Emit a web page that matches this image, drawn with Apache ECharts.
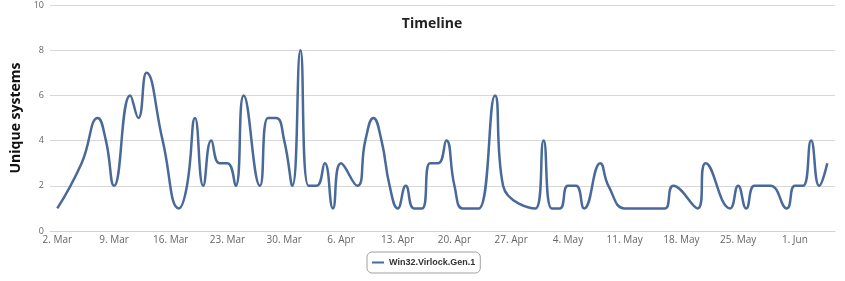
<!DOCTYPE html>
<html>
<head>
<meta charset="utf-8">
<script src="https://cdn.jsdelivr.net/npm/echarts@6/dist/echarts.min.js"></script>
<style>
  html, body { margin: 0; padding: 0; background: #fff; }
  #chart { width: 845px; height: 281px; }
</style>
</head>
<body>
<div id="chart"></div>
<script>
// daily detections (days with no point are simply skipped)
const dates = [
  '2015-03-02', '2015-03-05', '2015-03-07', '2015-03-08', '2015-03-09', '2015-03-11',
  '2015-03-12', '2015-03-13', '2015-03-15', '2015-03-17', '2015-03-18', '2015-03-19',
  '2015-03-20', '2015-03-21', '2015-03-22', '2015-03-23', '2015-03-24', '2015-03-25',
  '2015-03-27', '2015-03-28', '2015-03-29', '2015-03-30', '2015-03-31', '2015-04-01',
  '2015-04-02', '2015-04-03', '2015-04-04', '2015-04-05', '2015-04-06', '2015-04-08',
  '2015-04-09', '2015-04-10', '2015-04-11', '2015-04-12', '2015-04-13', '2015-04-14',
  '2015-04-15', '2015-04-16', '2015-04-17', '2015-04-18', '2015-04-19', '2015-04-20',
  '2015-04-21', '2015-04-22', '2015-04-23', '2015-04-25', '2015-04-26', '2015-04-30',
  '2015-05-01', '2015-05-02', '2015-05-03', '2015-05-04', '2015-05-05', '2015-05-06',
  '2015-05-08', '2015-05-09', '2015-05-11', '2015-05-12', '2015-05-13', '2015-05-14',
  '2015-05-15', '2015-05-16', '2015-05-17', '2015-05-20', '2015-05-21', '2015-05-24',
  '2015-05-25', '2015-05-26', '2015-05-27', '2015-05-28', '2015-05-29', '2015-05-31',
  '2015-06-01', '2015-06-02', '2015-06-03', '2015-06-04', '2015-06-05'
]
const values = [
  1, 3, 5, 4, 2, 6,
  5, 7, 4, 1, 2, 5,
  2, 4, 3, 3, 2, 6,
  2, 5, 5, 4, 2, 8,
  2, 2, 3, 1, 3, 2,
  4, 5, 4, 2, 1, 2,
  1, 1, 3, 3, 4, 2,
  1, 1, 1, 6, 2, 1,
  4, 1, 1, 2, 2, 1,
  3, 2, 1, 1, 1, 1,
  1, 1, 2, 1, 3, 1,
  2, 1, 2, 2, 2, 1,
  2, 2, 4, 2, 3
]
const tickDates = [
  '2015-03-02', '2015-03-09', '2015-03-16', '2015-03-23', '2015-03-30', '2015-04-06',
  '2015-04-13', '2015-04-20', '2015-04-27', '2015-05-04', '2015-05-11', '2015-05-18',
  '2015-05-25', '2015-06-01'
]
const monthNames = ['Jan', 'Feb', 'Mar', 'Apr', 'May', 'Jun', 'Jul', 'Aug', 'Sep', 'Oct', 'Nov', 'Dec']
const seriesName = 'Win32.Virlock.Gen.1'

const DAY = 86400000
const ts = d => Date.parse(d + 'T00:00:00Z')

const chart = echarts.init(document.getElementById('chart'))

chart.setOption({
  animation: false,
  textStyle: { fontFamily: 'Open Sans, DejaVu Sans, sans-serif' },
  title: {
    text: 'Timeline',
    left: 427,
    textAlign: 'center',
    top: 12,
    textStyle: { fontSize: 14, fontWeight: 'bold', color: '#222' }
  },
  legend: {
    bottom: 8,
    left: 424,
    data: [seriesName],
    icon: 'rect',
    itemWidth: 12,
    itemHeight: 2,
    itemGap: 6,
    padding: [6, 5],
    borderColor: '#a0a0a0',
    borderWidth: 1,
    borderRadius: 5,
    textStyle: { fontSize: 9, fontWeight: 'bold', color: '#333', fontFamily: 'Liberation Sans, Arial, sans-serif' }
  },
  grid: { left: 50, right: 10, top: 5, bottom: 50 },
  xAxis: {
    type: 'value',
    min: ts('2015-03-02') - 0.9 * DAY,
    max: ts('2015-06-05') + 0.95 * DAY,
    splitLine: { show: false },
    axisLine: { show: true, lineStyle: { color: '#c8d4e6' } },
    axisTick: { show: false },
    axisLabel: {
      customValues: tickDates.map(ts),
      color: '#666',
      fontSize: 10,
      margin: 4,
      formatter: v => {
        const d = new Date(v)
        return d.getUTCDate() + '. ' + monthNames[d.getUTCMonth()]
      }
    }
  },
  yAxis: {
    type: 'value',
    min: 0,
    max: 10,
    interval: 2,
    name: 'Unique systems',
    nameLocation: 'middle',
    nameGap: 22,
    nameTextStyle: { fontSize: 14, fontWeight: 'bold', color: '#111' },
    axisLine: { show: false },
    axisTick: { show: false },
    axisLabel: { color: '#666', fontSize: 9, margin: 6 },
    splitLine: { lineStyle: { color: '#d8d8d8', width: 1 } }
  },
  series: [{
    name: seriesName,
    type: 'line',
    smooth: 0.5,
    showSymbol: false,
    data: dates.map((d, i) => [ts(d), values[i]]),
    lineStyle: { color: '#48699a', width: 2.5 },
    itemStyle: { color: '#48699a' }
  }]
})
// centre the legend box on x=424 like the reference
const lg = chart.getModel().getComponent('legend')
const view = chart.getViewOfComponentModel(lg)
if (view && view.group) {
  const w = view.group.getBoundingRect().width
  chart.setOption({ legend: { left: Math.round(424 - w / 2) } })
}
</script>
</body>
</html>
